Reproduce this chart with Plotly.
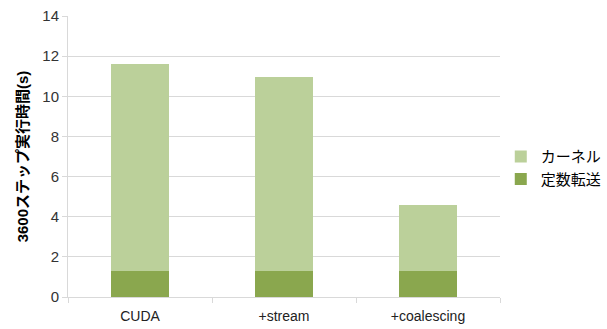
import plotly.graph_objects as go

categories = ["CUDA", "+stream", "+coalescing"]
transfer = [1.32, 1.32, 1.32]
kernel = [10.29, 9.64, 3.28]
series_names = ["定数転送", "カーネル"]
y_ticks = [0, 2, 4, 6, 8, 10, 12, 14]

FONT = "Liberation Sans, Noto Sans CJK JP, sans-serif"

fig = go.Figure()
fig.add_trace(go.Bar(x=categories, y=transfer, name=series_names[0],
                     marker=dict(color="#8aa74e", line=dict(width=0)), width=0.4))
fig.add_trace(go.Bar(x=categories, y=kernel, name=series_names[1],
                     marker=dict(color="#bbd09a", line=dict(width=0)), width=0.4))

fig.update_layout(
    barmode="stack",
    width=607, height=329,
    margin=dict(l=68, r=107, t=16, b=32, autoexpand=False),
    paper_bgcolor="white", plot_bgcolor="white",
    font=dict(family=FONT, size=14, color="#000000"),
    legend=dict(x=0.825, y=0.46, xref="container", xanchor="left", yanchor="middle",
                traceorder="reversed", font=dict(size=15),
                itemwidth=30, tracegroupgap=7),
    showlegend=True,
)
fig.update_yaxes(range=[0, 14], tickvals=y_ticks, showgrid=True, gridcolor="#d9d9d9",
                 gridwidth=1, showline=True, linecolor="#d9d9d9", ticks="outside",
                 ticklen=5, tickcolor="#d9d9d9", zeroline=False,
                 title=dict(text="<b>3600ステップ実行時間(s)</b>", font=dict(size=15), standoff=10),
                 tickfont=dict(size=15, color="#333333"))
fig.update_xaxes(showline=True, linecolor="#d9d9d9", ticks="outside", tickson="boundaries",
                 ticklen=5, tickcolor="#d9d9d9", tickfont=dict(size=14, color="#222222"),
                 ticklabelstandoff=6)

fig.write_html("out.html")
